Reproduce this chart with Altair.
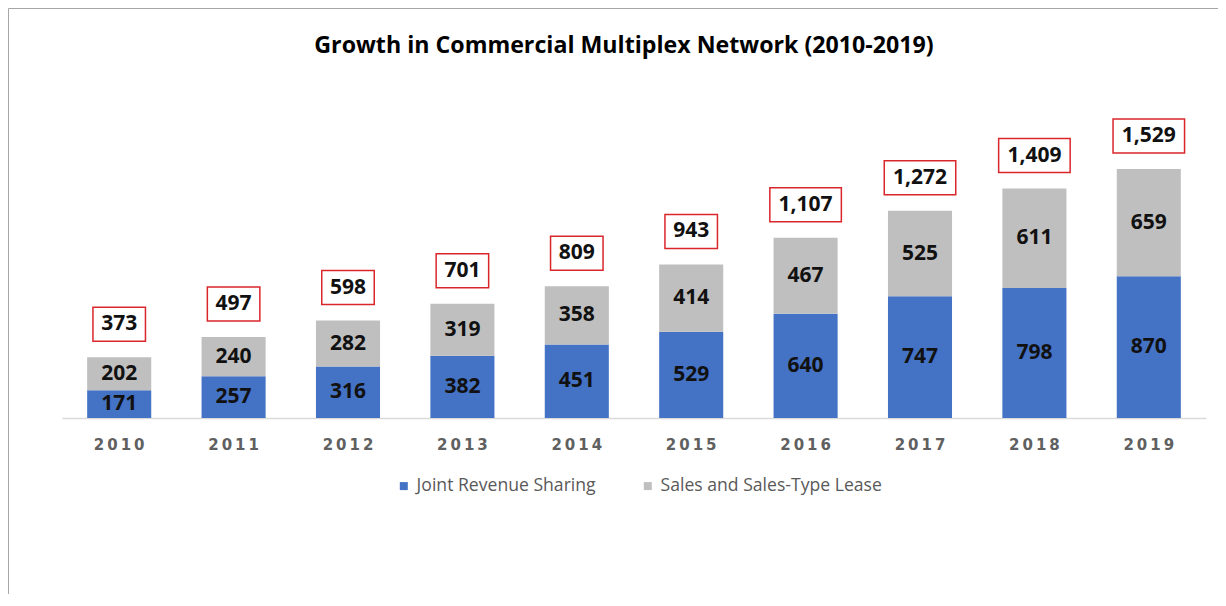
import altair as alt
import pandas as pd

years = ["2010", "2011", "2012", "2013", "2014", "2015", "2016", "2017", "2018", "2019"]
joint_revenue = [171, 257, 316, 382, 451, 529, 640, 747, 798, 870]
sales_lease = [202, 240, 282, 319, 358, 414, 467, 525, 611, 659]
series_names = ["Joint Revenue Sharing", "Sales and Sales-Type Lease"]
series_colors = ["#4472c4", "#bfbfbf"]

rows = []
for i, yr in enumerate(years):
    a = joint_revenue[i]
    b = sales_lease[i]
    rows.append(dict(year=yr, series=series_names[0], value=a, y0=0, y1=a, ord=0))
    rows.append(dict(year=yr, series=series_names[1], value=b, y0=a, y1=a + b, ord=1))
seg = pd.DataFrame(rows)
seg["mid"] = (seg["y0"] + seg["y1"]) / 2
tot = pd.DataFrame({"year": years, "total": [a + b for a, b in zip(joint_revenue, sales_lease)]})

x = alt.X(
    "year:N",
    scale=alt.Scale(paddingInner=0.44, paddingOuter=0.22),
    axis=alt.Axis(
        title=None, labelAngle=0, ticks=False, domainColor="#d9d9d9", domainWidth=1.3,
        labelColor="#606060", labelFont="DejaVu Sans", labelFontSize=15, labelFontWeight="bold",
        labelPadding=19, labelExpr="join(split(datum.label, ''), '\u2009')",
    ),
)
yscale = alt.Scale(domain=[0, 1830])

bars = alt.Chart(seg).mark_bar().encode(
    x=x,
    y=alt.Y("y0:Q", scale=yscale, axis=None),
    y2="y1:Q",
    color=alt.Color(
        "series:N",
        scale=alt.Scale(domain=series_names, range=series_colors),
        legend=alt.Legend(
            title=None, orient="none", legendX=333, legendY=357, direction="horizontal",
            symbolType="square", symbolSize=64, symbolStrokeWidth=0, labelFont="Open Sans",
            labelFontSize=17.6, labelColor="#595959", columnPadding=43, labelOffset=4,
            labelLimit=400,
        ),
    ),
)

seg_text = alt.Chart(seg).mark_text(
    font="Open Sans", fontSize=21, fontWeight="bold", color="#111111", baseline="middle"
).encode(x=x, y=alt.Y("mid:Q", scale=yscale), text="value:Q")

boxed = alt.Chart(tot).transform_calculate(
    label="format(datum.total, ',')"
).transform_calculate(
    hw="4.75 * length(datum.label) + 12"
).transform_calculate(
    boxpath="'M' + (-datum.hw) + ',-17H' + datum.hw + 'V17H' + (-datum.hw) + 'Z'"
)

boxes = boxed.mark_point(
    size=4, yOffset=-33, filled=True, fill="white", stroke="#d9262b", strokeWidth=1.5, opacity=1
).encode(
    x=x, y=alt.Y("total:Q", scale=yscale),
    shape=alt.Shape("boxpath:N", scale=None, legend=None),
)

tot_text = boxed.mark_text(
    font="Open Sans", fontSize=21, fontWeight="bold", color="#111111", baseline="middle", dy=-33
).encode(x=x, y=alt.Y("total:Q", scale=yscale), text="label:N")

frame = pd.DataFrame({"k": [0]})
left_border = alt.Chart(frame).mark_rule(color="#a6a6a6", strokeWidth=1).encode(
    x=alt.value(-53.5), y=alt.value(-111.5), y2=alt.value(480)
)
top_border = alt.Chart(frame).mark_rule(color="#a6a6a6", strokeWidth=1).encode(
    x=alt.value(-53.5), x2=alt.value(1160), y=alt.value(-111.5)
)

chart = alt.layer(bars, seg_text, boxes, tot_text, left_border, top_border).properties(
    width=1144,
    height=298,
    title=alt.Title(
        "Growth in Commercial Multiplex Network (2010-2019)",
        font="Open Sans", fontSize=23.2, fontWeight="bold", color="#000000",
        anchor="middle", frame="group", offset=-50, dx=-10,
    ),
    autosize=alt.AutoSizeParams(type="none"),
    padding={"left": 54, "top": 112, "right": 12, "bottom": 176},
).configure_view(strokeWidth=0)

chart.save("out.html", embed_options={"renderer": "svg", "actions": False})
